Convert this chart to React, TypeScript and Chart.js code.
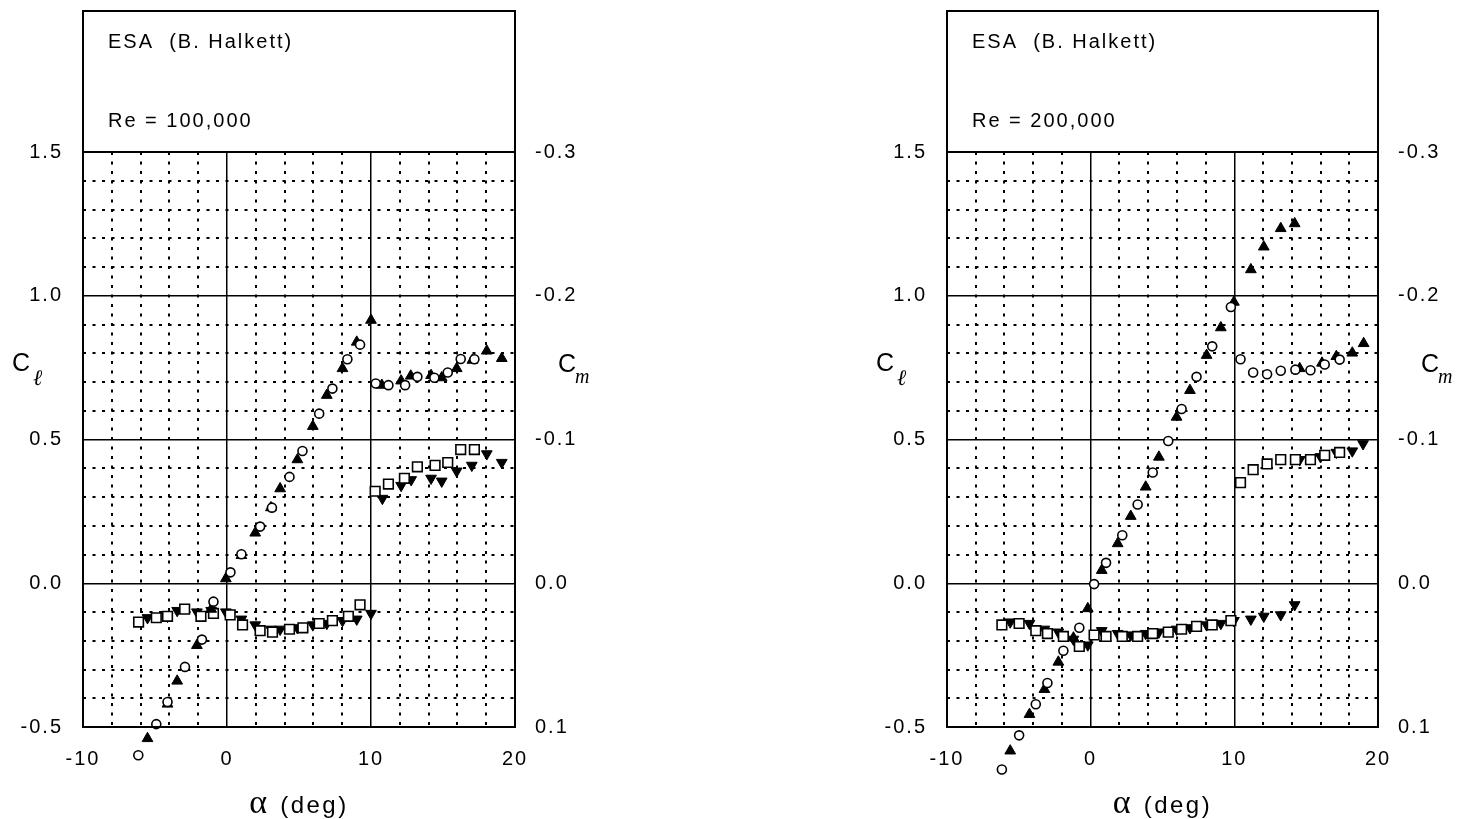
import React, { useEffect, useRef } from "react";
import { Chart, registerables } from "chart.js";

Chart.register(...registerables);

// ---------------- Data: Re = 100,000 ----------------
const re100CircleAlpha = [-6.16, -4.91, -4.13, -2.92, -1.74, -0.94, 0.24, 1.0, 2.3, 3.12, 4.34, 5.24, 6.4, 7.32, 8.36, 9.24, 10.33, 11.21, 12.37, 13.22, 14.4, 15.33, 16.23, 17.18];
const re100CircleCl = [-0.598, -0.49, -0.413, -0.291, -0.196, -0.064, 0.038, 0.101, 0.197, 0.263, 0.37, 0.46, 0.59, 0.677, 0.779, 0.83, 0.695, 0.689, 0.689, 0.718, 0.715, 0.733, 0.78, 0.779];

const re100TriUpAlpha = [-5.52, -4.13, -3.46, -2.09, -1.1, -0.08, 1.0, 1.96, 3.05, 3.69, 4.89, 5.96, 6.93, 8.02, 9.01, 10.0, 10.75, 12.09, 12.76, 14.17, 14.91, 15.95, 17.04, 18.04, 19.08];
const re100TriUpCl = [-0.54, -0.42, -0.34, -0.216, -0.09, 0.016, 0.097, 0.175, 0.263, 0.329, 0.43, 0.546, 0.654, 0.747, 0.839, 0.915, 0.689, 0.704, 0.721, 0.723, 0.715, 0.747, 0.776, 0.808, 0.782];

const re100SquareAlpha = [-6.14, -4.91, -4.13, -2.94, -1.81, -0.94, 0.22, 1.08, 2.3, 3.16, 4.34, 5.27, 6.4, 7.32, 8.43, 9.24, 10.29, 11.21, 12.32, 13.22, 14.45, 15.33, 16.23, 17.18];
const re100SquareCm = [0.027, 0.024, 0.023, 0.018, 0.023, 0.021, 0.022, 0.029, 0.033, 0.034, 0.032, 0.031, 0.028, 0.026, 0.023, 0.015, -0.064, -0.069, -0.073, -0.081, -0.082, -0.084, -0.093, -0.093];

const re100TriDownAlpha = [-5.52, -4.13, -3.46, -2.09, -1.1, -0.08, 1.0, 1.96, 3.05, 3.69, 4.89, 5.96, 6.93, 8.02, 9.01, 10.0, 10.79, 12.09, 12.79, 14.17, 14.91, 15.95, 17.0, 18.04, 19.08];
const re100TriDownCm = [0.024, 0.023, 0.019, 0.02, 0.019, 0.02, 0.025, 0.029, 0.032, 0.032, 0.031, 0.029, 0.028, 0.026, 0.025, 0.021, -0.059, -0.068, -0.072, -0.073, -0.071, -0.078, -0.082, -0.09, -0.084];

// ---------------- Data: Re = 200,000 ----------------
const re200CircleAlpha = [-6.18, -4.98, -3.82, -3.01, -1.9, -0.79, 0.24, 1.07, 2.2, 3.27, 4.32, 5.4, 6.33, 7.37, 8.46, 9.76, 10.43, 11.31, 12.28, 13.23, 14.25, 15.3, 16.29, 17.33];
const re200CircleCl = [-0.648, -0.529, -0.421, -0.347, -0.235, -0.155, -0.003, 0.071, 0.167, 0.274, 0.385, 0.495, 0.606, 0.718, 0.824, 0.961, 0.779, 0.733, 0.727, 0.739, 0.743, 0.741, 0.761, 0.778];

const re200TriUpAlpha = [-5.6, -4.26, -3.22, -2.25, -1.2, -0.2, 0.77, 1.88, 2.79, 3.83, 4.75, 5.98, 6.91, 8.07, 9.06, 9.97, 11.15, 12.05, 13.23, 14.2, 14.55, 16.1, 17.1, 18.21, 19.0];
const re200TriUpCl = [-0.583, -0.456, -0.369, -0.274, -0.19, -0.088, 0.045, 0.138, 0.233, 0.335, 0.439, 0.578, 0.671, 0.793, 0.889, 0.978, 1.091, 1.17, 1.234, 1.251, 0.747, 0.766, 0.789, 0.801, 0.834];

const re200SquareAlpha = [-6.18, -4.98, -3.82, -3.01, -1.9, -0.79, 0.24, 1.07, 2.2, 3.27, 4.32, 5.4, 6.33, 7.37, 8.46, 9.76, 10.43, 11.31, 12.28, 13.23, 14.25, 15.3, 16.29, 17.33];
const re200SquareCm = [0.029, 0.028, 0.033, 0.035, 0.037, 0.044, 0.036, 0.037, 0.037, 0.037, 0.035, 0.034, 0.032, 0.03, 0.029, 0.026, -0.07, -0.079, -0.083, -0.086, -0.086, -0.086, -0.089, -0.091];

const re200TriDownAlpha = [-5.6, -4.26, -3.22, -2.25, -1.2, -0.2, 0.77, 1.88, 2.79, 3.83, 4.75, 5.98, 6.91, 8.07, 9.06, 9.97, 11.15, 12.05, 13.23, 14.2, 14.55, 16.0, 17.1, 18.21, 18.96];
const re200TriDownCm = [0.027, 0.028, 0.032, 0.034, 0.039, 0.043, 0.033, 0.035, 0.036, 0.035, 0.034, 0.032, 0.031, 0.029, 0.028, 0.026, 0.025, 0.023, 0.022, 0.015, -0.086, -0.088, -0.091, -0.092, -0.097];

// ---------------- Axes / ticks ----------------
const xMajorTicks = [-10, 0, 10, 20];
const clMajorTicks = [-0.5, 0.0, 0.5, 1.0, 1.5];
const cmTicks = [-0.3, -0.2, -0.1, 0.0, 0.1];
const headerTitle = "ESA  (B. Halkett)";
const reLabels = ["Re = 100,000", "Re = 200,000"];

const SANS = "'Liberation Sans', Arial, Helvetica, sans-serif";
const SERIF = "'Liberation Serif', 'Times New Roman', serif";

const near = (v: number, list: number[]) => list.some((t) => Math.abs(t - v) < 1e-6);
const fmt1 = (v: number) => (Math.abs(v) < 1e-9 ? "0.0" : v.toFixed(1));

const zip = (xs: number[], ys: number[]) => xs.map((x, i) => ({ x, y: ys[i] }));

// lets markers that lie just outside the plot frame (below -0.5) still be drawn
const overflowPlugin = {
  id: "overflow",
  beforeDatasetsDraw(chart: any) {
    chart.$savedArea = chart.chartArea;
    const a = chart.chartArea;
    chart.chartArea = { ...a, top: a.top - 80, bottom: a.bottom + 80, left: a.left - 40, right: a.right + 40 };
  },
  afterDatasetsDraw(chart: any) {
    if (chart.$savedArea) chart.chartArea = chart.$savedArea;
  },
};

const decorPlugin = {
  id: "decor",
  beforeDraw(chart: any) {
    (chart.ctx as any).letterSpacing = "2px";
  },
  afterDraw(chart: any, _args: any, opts: any) {
    const { ctx, chartArea: a } = chart;
    ctx.save();
    ctx.strokeStyle = "#000";
    ctx.fillStyle = "#000";
    ctx.lineWidth = 2;
    ctx.setLineDash([]);
    ctx.strokeRect(a.left, a.top, a.right - a.left, a.bottom - a.top);
    ctx.strokeRect(a.left, 11, a.right - a.left, a.top - 11);

    // header text
    (ctx as any).letterSpacing = "2px";
    ctx.textAlign = "left";
    ctx.textBaseline = "alphabetic";
    ctx.font = `20px ${SANS}`;
    ctx.fillText(opts.title, a.left + 25, 48);
    ctx.fillText(opts.re, a.left + 25, 127);

    // x-axis title: alpha (deg)
    const cx = (a.left + a.right) / 2;
    ctx.font = `34px ${SERIF}`;
    (ctx as any).letterSpacing = "0px";
    const wA = ctx.measureText("\u03b1").width;
    ctx.font = `24px ${SANS}`;
    (ctx as any).letterSpacing = "2.5px";
    const wD = ctx.measureText("(deg)").width;
    const gap = 13;
    const x0 = cx - (wA + gap + wD) / 2;
    ctx.font = `34px ${SERIF}`;
    (ctx as any).letterSpacing = "0px";
    ctx.fillText("\u03b1", x0, 813);
    ctx.font = `24px ${SANS}`;
    (ctx as any).letterSpacing = "2.5px";
    ctx.fillText("(deg)", x0 + wA + gap, 813);

    // C_l label (left)
    (ctx as any).letterSpacing = "0px";
    ctx.font = `25px ${SANS}`;
    const lx = a.left - 71;
    ctx.fillText("C", lx, 371);
    const wC = ctx.measureText("C").width;
    ctx.font = `italic 22px ${SERIF}`;
    ctx.fillText("\u2113", lx + wC + 3, 385);

    // C_m label (right)
    ctx.font = `25px ${SANS}`;
    const rx = a.right + 43;
    ctx.fillText("C", rx, 372);
    ctx.font = `italic 20px ${SERIF}`;
    ctx.fillText("m", rx + wC - 1, 383);
    ctx.restore();
  },
};

type PanelProps = {
  left: number;
  width: number;
  leftW: number;
  rightW: number;
  re: string;
  circle: { x: number; y: number }[];
  triUp: { x: number; y: number }[];
  square: { x: number; y: number }[];
  triDown: { x: number; y: number }[];
};

function Panel(p: PanelProps) {
  const ref = useRef<HTMLCanvasElement | null>(null);
  useEffect(() => {
    if (!ref.current) return;
    const tickFont = { family: SANS, size: 20 };
    const chart = new Chart(ref.current, {
      type: "scatter",
      data: {
        datasets: [
          {
            data: p.circle,
            yAxisID: "y",
            pointStyle: "circle",
            pointRadius: 4.5,
            pointBorderWidth: 1.6,
            pointBorderColor: "#000",
            pointBackgroundColor: "#fff",
            clip: false,
          },
          {
            data: p.triUp,
            yAxisID: "y",
            pointStyle: "triangle",
            pointRadius: 6.2,
            pointBorderWidth: 1,
            pointBorderColor: "#000",
            pointBackgroundColor: "#000",
            clip: false,
          },
          {
            data: p.square,
            yAxisID: "y2",
            pointStyle: "rect",
            pointRadius: 6.8,
            pointBorderWidth: 1.6,
            pointBorderColor: "#000",
            pointBackgroundColor: "#fff",
            clip: false,
          },
          {
            data: p.triDown,
            yAxisID: "y2",
            pointStyle: "triangle",
            rotation: 180,
            pointRadius: 6.2,
            pointBorderWidth: 1,
            pointBorderColor: "#000",
            pointBackgroundColor: "#000",
            clip: false,
          } as any,
        ],
      },
      options: {
        responsive: false,
        maintainAspectRatio: false,
        animation: false,
        devicePixelRatio: 1,
        events: [],
        layout: { padding: { top: 152, left: 0, right: 0, bottom: 0 } },
        plugins: {
          legend: { display: false },
          tooltip: { enabled: false },
          decor: { title: headerTitle, re: p.re },
        } as any,
        scales: {
          x: {
            type: "linear",
            position: "bottom",
            min: -10,
            max: 20,
            ticks: {
              stepSize: 2,
              autoSkip: false,
              maxRotation: 0,
              font: tickFont,
              color: "#000",
              padding: 20,
              callback: (v: any) => (near(Number(v), xMajorTicks) ? String(Math.round(Number(v))) : ""),
            },
            grid: {
              color: "#000",
              drawTicks: false,
              lineWidth: (c: any) => (c.tick && near(c.tick.value, xMajorTicks) ? 1.5 : 2),
            },
            border: {
              display: false,
              dash: (c: any) => (c.tick && near(c.tick.value, xMajorTicks) ? [] : [3, 6.5]),
            },
            afterFit: (s: any) => {
              s.height = 92;
            },
          },
          y: {
            type: "linear",
            position: "left",
            min: -0.5,
            max: 1.5,
            ticks: {
              stepSize: 0.1,
              autoSkip: false,
              font: tickFont,
              color: "#000",
              padding: 20,
              callback: (v: any) => (near(Number(v), clMajorTicks) ? fmt1(Number(v)) : ""),
            },
            grid: {
              color: "#000",
              drawTicks: false,
              lineWidth: (c: any) => (c.tick && near(c.tick.value, clMajorTicks) ? 1.5 : 2),
            },
            border: {
              display: false,
              dash: (c: any) => (c.tick && near(c.tick.value, clMajorTicks) ? [] : [3, 6.5]),
            },
            afterFit: (s: any) => {
              s.width = p.leftW;
            },
          },
          y2: {
            type: "linear",
            position: "right",
            min: -0.3,
            max: 0.1,
            reverse: true,
            ticks: {
              stepSize: 0.1,
              autoSkip: false,
              font: tickFont,
              color: "#000",
              padding: 20,
              callback: (v: any) => (near(Number(v), cmTicks) ? fmt1(Number(v)) : ""),
            },
            grid: { display: false, drawTicks: false },
            border: { display: false },
            afterFit: (s: any) => {
              s.width = p.rightW;
            },
          },
        },
      } as any,
      plugins: [overflowPlugin as any, decorPlugin as any],
    });
    return () => chart.destroy();
  }, []);
  return (
    <canvas
      ref={ref}
      width={p.width}
      height={819}
      style={{ position: "absolute", left: p.left, top: 0, width: p.width, height: 819 }}
    />
  );
}

export default function App() {
  return (
    <div style={{ position: "fixed", left: 0, top: 0, width: 1463, height: 819, background: "#fff", overflow: "hidden" }}>
      <Panel
        left={0}
        width={731}
        leftW={83}
        rightW={216}
        re={reLabels[0]}
        circle={zip(re100CircleAlpha, re100CircleCl)}
        triUp={zip(re100TriUpAlpha, re100TriUpCl)}
        square={zip(re100SquareAlpha, re100SquareCm)}
        triDown={zip(re100TriDownAlpha, re100TriDownCm)}
      />
      <Panel
        left={731}
        width={732}
        leftW={216}
        rightW={85}
        re={reLabels[1]}
        circle={zip(re200CircleAlpha, re200CircleCl)}
        triUp={zip(re200TriUpAlpha, re200TriUpCl)}
        square={zip(re200SquareAlpha, re200SquareCm)}
        triDown={zip(re200TriDownAlpha, re200TriDownCm)}
      />
    </div>
  );
}
